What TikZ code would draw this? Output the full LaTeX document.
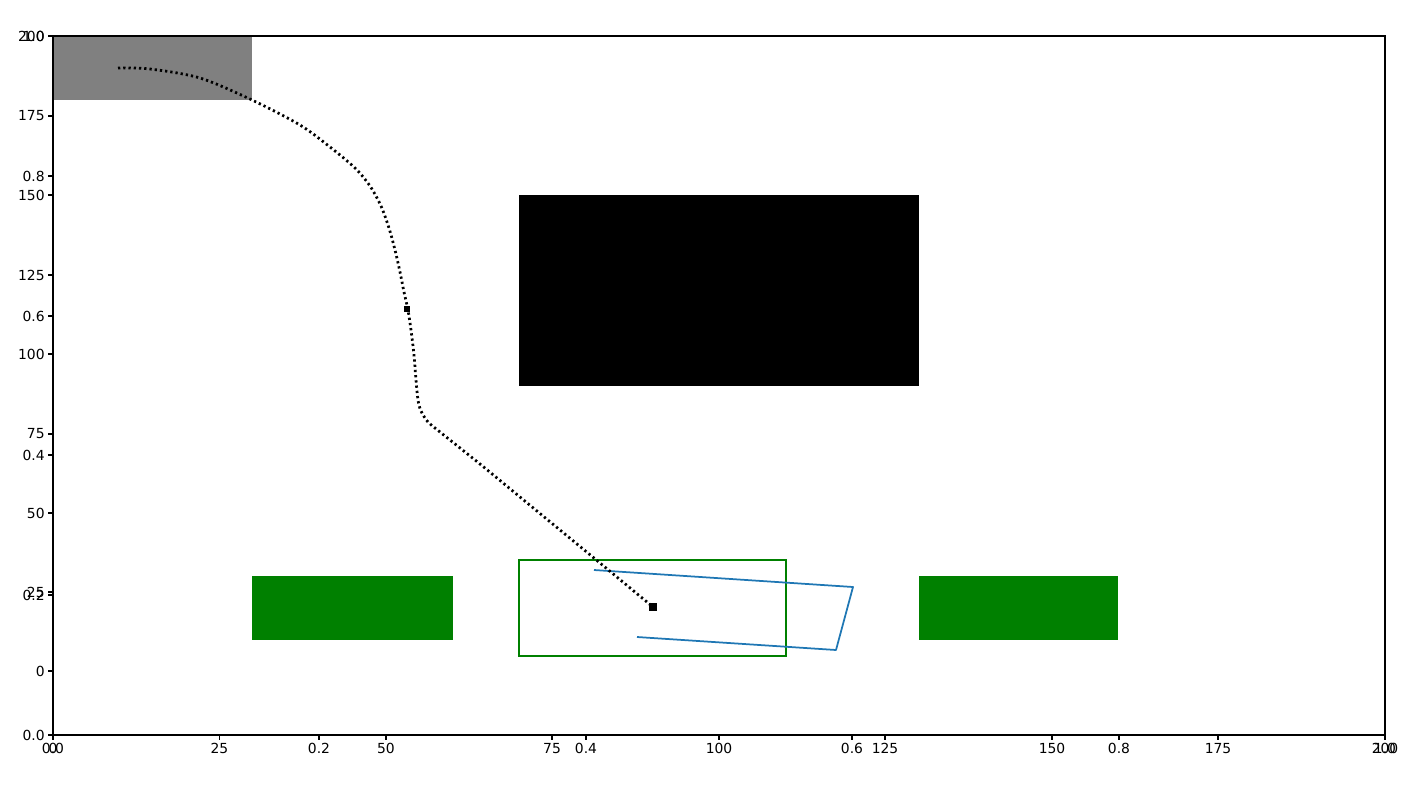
\documentclass[tikz,border=0pt]{standalone}
\usepackage{fontspec}
\setmainfont{DejaVu Sans}
\definecolor{mgreen}{RGB}{0,128,0}
\definecolor{mgray}{RGB}{128,128,128}
\definecolor{mblue}{RGB}{31,119,180}
\begin{document}
\begin{tikzpicture}[x=0.02cm,y=-0.02cm,
  tick/.style={line width=0.03cm},
  xlab/.style={anchor=north,inner sep=0pt,font=\fontsize{7.9}{9}\selectfont},
  ylab/.style={anchor=east,inner sep=0pt,font=\fontsize{7.9}{9}\selectfont},
  path dots/.style={line width=0.055cm,dash pattern=on 0.045cm off 0.06cm},
  marker/.style={fill=black,draw=none,minimum size=0.16cm,inner sep=0pt,rectangle}]
\useasboundingbox (0,0) rectangle (1411,789);
% obstacles
\fill[mgray] (53,36) rectangle (252,100);
\fill[black] (519,195) rectangle (919,386);
\fill[mgreen] (252,576) rectangle (453,640);
\fill[mgreen] (919,576) rectangle (1118,640);
\draw[mgreen,line width=0.05cm] (519,560) rectangle (786,656);
% vehicle outline
\coordinate (b1) at (594,570);
\coordinate (b2) at (853,587);
\coordinate (b3) at (836,650);
\coordinate (b4) at (637,637);
\draw[mblue,line width=0.035cm,line join=round] (b1) -- (b2) -- (b3) -- (b4);
% path
\coordinate (start) at (118,68);
\coordinate (goal) at (653,607);
\draw[path dots] plot[smooth,tension=0.5] coordinates {(118,68) (150,69) (200,78) (252,100) (300,125) (330,147) (355,168) (370,186) (381,206) (389,228) (395,250) (400,272) (404,292) (408,310) (411,330) (414,355) (416,380) (418,400) (421,411) (428,422) (440,432) (480,464) (520,497) (560,530) (600,563) (653,607)};
\node[marker] (gm) at (goal) {};
\node[marker,minimum size=0.12cm] (mm) at (407,309) {};
% frame
\draw[line width=0.035cm] (53,36) rectangle (1385,735);
% x ticks (data)
\foreach \v/\px in {0/53,25/219.5,50/386,75/552,100/719,125/885,150/1052,175/1218,200/1385}{
  \draw[tick] (\px,735) -- (\px,740);
  \node[xlab] (xd\v) at (\px,743) {\v};
}
% x ticks (unit)
\foreach \v/\px in {0.0/53,0.2/319,0.4/586,0.6/852,0.8/1119,1.0/1385}{
  \draw[tick] (\px,735) -- (\px,740);
  \node[xlab] (xu\v) at (\px,743) {\v};
}
% y ticks (data)
\foreach \v/\py in {0/671,25/592,50/513,75/434,100/354,125/275,150/195,175/116,200/36}{
  \draw[tick] (53,\py) -- (48,\py);
  \node[ylab] (yd\v) at (45,\py) {\v};
}
% y ticks (unit)
\foreach \v/\py in {0.0/735,0.2/595,0.4/455,0.6/316,0.8/176,1.0/36}{
  \draw[tick] (53,\py) -- (48,\py);
  \node[ylab] (yu\v) at (45,\py) {\v};
}
\end{tikzpicture}
\end{document}
